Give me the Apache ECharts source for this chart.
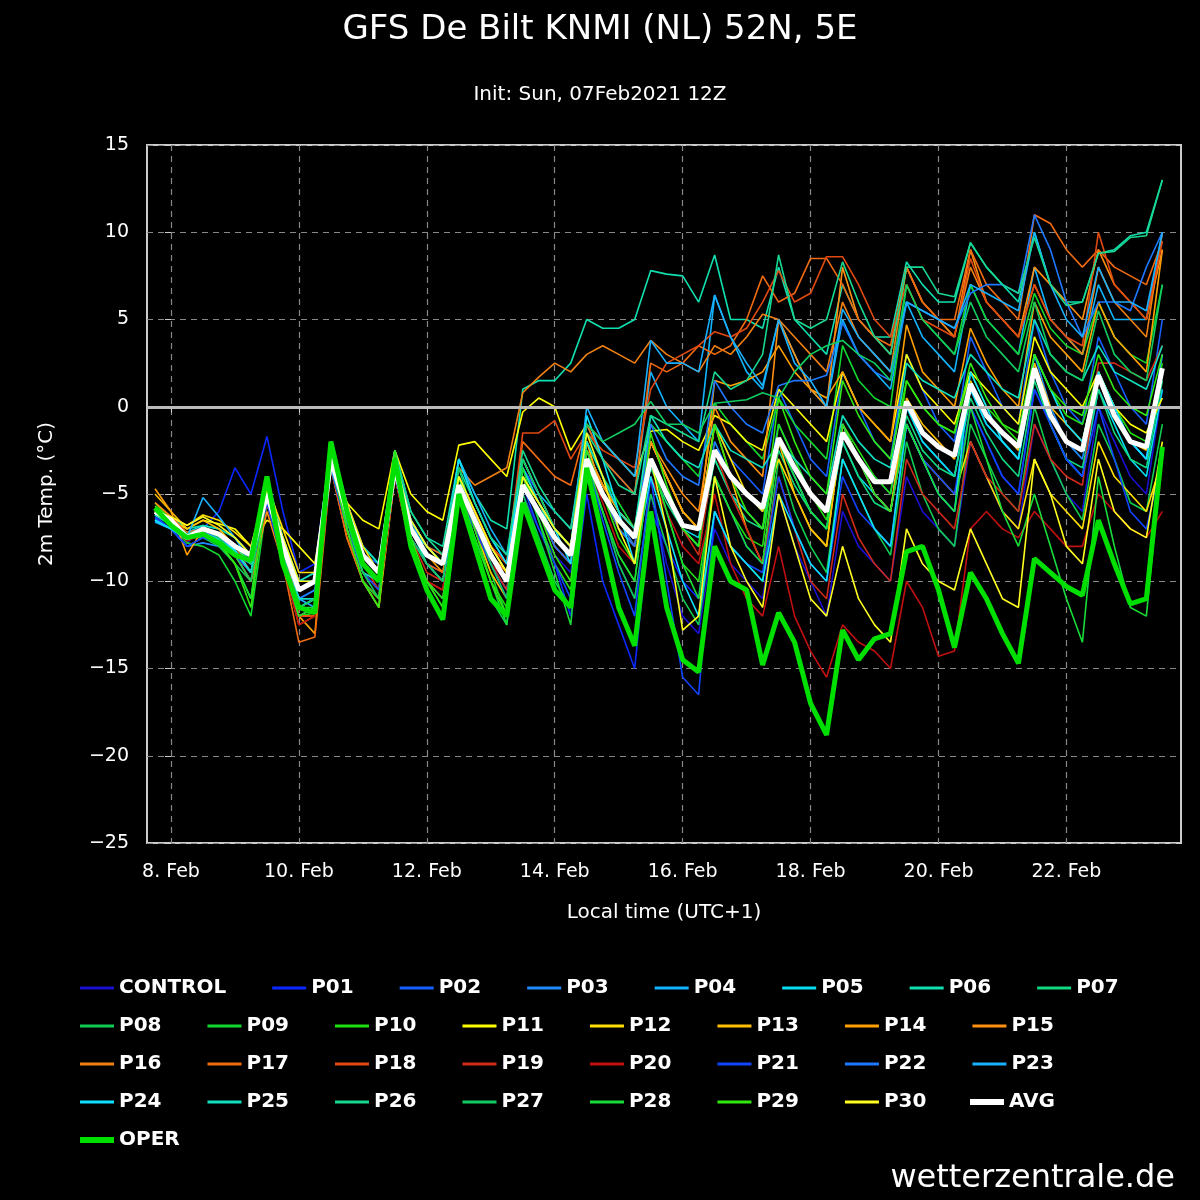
<!DOCTYPE html>
<html><head><meta charset="utf-8">
<script src="https://cdn.jsdelivr.net/npm/echarts@6/dist/echarts.min.js"></script>
<style>html,body{margin:0;background:#000}#c{width:1200px;height:1200px}</style>
</head><body><div id="c"></div>
<script>
const startHour = -6, stepHours = 6; // hours relative to 8 Feb 00:00 local
const tickHours = [0,48,96,144,192,240,288,336];
const tickLabels = ['8. Feb','10. Feb','12. Feb','14. Feb','16. Feb','18. Feb','20. Feb','22. Feb'];

const AVG=[-6,-6.5,-7.5,-7,-7.3,-8,-8.5,-5,-8,-10.5,-10,-3,-6,-8.5,-9.5,-3.5,-7,-8.5,-9,-4.5,-6.5,-8.5,-10,-4.5,-6,-7.5,-8.5,-3,-5,-6.5,-7.5,-3,-5,-6.8,-7,-2.5,-4,-5,-5.8,-1.8,-3.5,-5,-6,-1.5,-3,-4.3,-4.3,0.3,-1.5,-2.3,-2.8,1.3,-0.5,-1.5,-2.3,2.2,-0.5,-2,-2.5,1.8,-0.5,-2,-2.3,2.2];
const OPER=[-5.8,-6.8,-7.5,-7.3,-7.8,-8.5,-8.8,-4,-9,-11.5,-11.8,-2,-6,-9,-10,-3,-8,-10.5,-12.2,-5,-8,-11,-12,-5.5,-8,-10.5,-11.5,-3.5,-7.5,-11.5,-13.7,-6,-11.5,-14.5,-15.2,-8,-10,-10.5,-14.8,-11.8,-13.5,-17,-18.8,-12.8,-14.5,-13.3,-13,-8.3,-8,-10.5,-13.8,-9.5,-11,-13,-14.7,-8.7,-9.5,-10.3,-10.8,-6.5,-9,-11.3,-11,-2.3];

const CONTROL=[-6,-6.5,-7.5,-7.5,-7.8,-8,-9,-5,-8.5,-11,-10.5,-3,-6.5,-9,-10,-3.5,-7.5,-9,-9.5,-5,-7,-9,-10.5,-5,-7,-8.5,-9.5,-3.5,-6,-9,-11,-5,-9,-12,-13,-7,-9,-10,-11,-5,-8,-10,-12,-6,-8,-9,-10,-4,-6,-7,-8,-2,-4,-6,-7,-1,-3,-5,-6,0,-2,-4,-5,1];
const P01=[-6.2,-6.8,-7.8,-7,-6,-3.5,-5,-1.7,-6,-9.5,-9,-2.5,-5.5,-8,-9,-3,-6.5,-8,-8.5,-4,-6,-8.5,-10,-4,-6.5,-9,-12,-5,-10,-12.5,-15,-6,-8,-10,-11,-4,-6,-8,-9,-2,-4,-6,-7,-1,-3,-5,-6,-1,-3,-5,-6,0,-2,-4,-5,1,-1,-3,-4,2,0,-2,-3,3];
const P02=[-6.4,-7,-8,-7.5,-7.8,-8.5,-9.5,-4.5,-8,-10,-9.5,-2.5,-6,-8.5,-9,-3,-7,-8.5,-9,-4.5,-6.5,-8,-9.5,-3.5,-5,-7,-8,-2,-4,-6,-7,-2,-4,-6,-7,-1,-3,-4,-5,1,-1,-3,-4,2,0,-2,-3,3,1,-1,-2,4,2,0,-1,5,2,0,-1,4,2,0,-1,5];
const P03=[-6.5,-7,-8,-7.8,-8,-8.5,-9,-5.5,-8.5,-11,-10.5,-3.5,-6.5,-9,-10,-4,-7.5,-9,-10,-5,-7,-9,-10.5,-4.5,-6,-7.5,-8.5,-3,-5,-6.5,-8,-3,-5,-7,-8,-2,-4,-5,-6,-1,-3,-5,-6,-1,-3,-4,-5,0,-2,-3,-4,1,-1,-2,-3,3,0,-2,-3,2,0,-2,-3,3];
const P04=[-6.6,-7,-7.5,-7,-7.5,-8,-9,-5,-8,-11,-11,-3,-6,-8.5,-9.5,-3,-6.5,-8,-9,-3,-5.5,-7.5,-9,-3,-5,-6,-7,-1,-3,-4,-5,2,0,-1,-2,6.4,4,2,1,5,3,1,0,5,3,2,1,6,4,3,2,7,5,4,3,8,5,4,3,7,5,5,5,10];
const P05=[-6.2,-6.6,-7.2,-6.8,-7,-7.5,-8.5,-4.5,-7.5,-10,-10,-3,-6,-8,-9,-3.5,-7,-8,-9,-4.5,-6.5,-8,-9.5,-4,-5.5,-7,-8,-2.5,-4.5,-6,-7,-3,-5,-7,-7.5,-3,-5,-6,-7,-2,-4,-6,-7,-2,-4,-5,-6,0,-2,-3,-4,1,-1,-2,-3,2,-1,-3,-4,1,-1,-3,-4,1];
const P06=[-5.8,-6.3,-7,-6.8,-7,-7.5,-8.5,-4,-7.5,-10,-9.5,-2,-5.5,-8,-9,-2.5,-6,-7.5,-8,-3,-5,-6.5,-7,1,1.5,1.5,2.5,5,4.5,4.5,5,7.8,7.6,7.5,6,8.7,5,5,4.5,8,5,4,3,7,5,4,4,8.3,7,6,6,9.4,8,7,6,10,7,6,6,8.8,9,9.8,10,13];
const P07=[-6,-6.5,-7.3,-7,-7.3,-8,-9,-4.8,-8,-10.5,-10,-3,-6,-8.5,-9.5,-3.2,-7,-8.5,-9,-4.5,-6.5,-8.5,-10,-4.5,-6,-7.5,-8.5,-3,-5,-6.5,-7.5,-3.5,-5.5,-7,-8,-3,-5,-6.5,-7,-2.5,-4.5,-6,-7,-2,-4,-5.5,-6,-0.5,-2.5,-3.5,-4,0.5,-1.5,-3,-4,1.5,-1,-3,-3.5,1,-1.5,-3,-3.5,1.5];
const P08=[-5.8,-6.5,-7.5,-7.5,-8,-9,-10,-5.5,-9,-11.5,-11,-2.5,-7,-10,-11.5,-3,-8,-10,-11.5,-5,-8,-11,-12.5,-5,-7.5,-10,-11.5,-4,-6,-9,-11,-5,-8,-11,-12.5,-6,-8,-9,-10,-3,-6,-8,-9.5,-3,-5,-7,-8.5,-2,-5,-7,-8,-1,-3,-5,-6,0,-3,-5,-6.5,-1,-3,-5.5,-6,-1];
const P09=[-6,-6.8,-7.8,-8,-8.5,-10,-12,-5.5,-9,-12,-11.5,-3,-7,-10,-11,-3.5,-7.5,-9,-10,-4,-7,-9.5,-12,-4,-6,-8,-9,-2,-4,-5.5,-7,-1,-2,-3,-4,0.2,-1,-2,-3,0.5,-1,-2,-3,3.5,1.5,0.5,0,7,5,4,3,7,5,4,3,6.5,4.5,3.5,3,6,4,3,2.5,7];
const P10=[-5.5,-6.5,-7.5,-7.3,-7.8,-9,-11,-4,-9,-12,-11.8,-2.5,-7,-10,-11,-3,-8,-10.5,-12,-5,-7.5,-10,-11.5,-4,-6.5,-9,-10.5,-3.5,-6,-8.5,-10,-3,-6,-9,-10,-4,-6,-7.5,-8,-1,-3,-5,-6.5,-1,-2.5,-4,-5,1.5,0,-1,-1.5,2,0,-1,-2,3,1,-0.5,-1,2,0,-1.5,-2,2.5];
const P11=[-6.2,-6.5,-7,-6.5,-6.7,-7,-8,-6.5,-7,-8,-9,-3,-5.5,-6.5,-7,-2.5,-5,-6,-6.5,-2.2,-2,-3,-4,-0.3,0.5,0,-2.5,-1,-2,-3,-4,-1.4,-1.3,-2,-2.5,-0.5,-1,-2,-2.5,1,0,-1,-2,2,0,-1,-2,3,1,0,-1,2,1,0,-1,4,2,1,0,2,0,-1,-1.5,0.5];
const P12=[-6,-6.3,-6.8,-6.2,-6.5,-7.2,-8,-4.5,-7,-9.5,-9.5,-2.5,-5.5,-8,-9.5,-3,-6.5,-8,-9,-4,-6,-8,-9.5,-4,-5.5,-7,-8,-2.5,-4.5,-6,-7,-2,-4,-6,-7,-1,-3,-5,-6,-3,-5,-7,-8,-1,-3,-5,-6,-1,-3,-4,-5,-2,-4,-6,-7,-3,-5,-6,-7,-2,-4,-5,-6,-3];
const P13=[-5,-6,-7,-6.5,-7,-8,-9,-5,-9,-12,-12,-2.5,-7,-10,-11.5,-4,-8,-10,-11,-4.5,-7,-9.5,-11,-4,-6,-8,-9,-2,-5,-7,-8,-2,-4,-6,-7,-1,-4,-7,-9,-2,-5,-7,-8,-1,-3,-5,-6,0.5,-1,-2,-3,1.5,-0.5,-1.5,-2.5,2.5,0,-1,-2,2,-0.5,-2,-2.5,2];
const P14=[-4.7,-6,-8.5,-7,-7.3,-8,-9,-5.5,-8,-12,-13,-3,-7,-9.5,-10.5,-3.5,-7,-8.5,-9.5,-4,-6,-8,-9,-3,-5,-7,-8,-2.5,-4.5,-6,-7,-2,-4,-6,-7,1.5,1.2,1.5,2,3.5,2,1,0.5,2,0,-1,-2,4.7,2,1,0,4.5,2.5,1,0,6,4,3,2,6,4,3,2,9];
const P15=[-5.5,-6.3,-7.5,-7,-7.5,-8.5,-10,-6,-9,-12.5,-12,-3.5,-7.5,-10,-11,-4,-7.5,-9,-10,-4.5,-6.5,-8.5,-9.5,-4,-5.5,-7,-8,-2.5,-4.5,-6,-7,-2,-3.5,-5,-6,0,-2,-3,-4,5,3,1,0,8,5,4,3,8,6,5,4,9,6,5,4,8,7,6,5,9,7,6,5,9];
const P16=[-6,-6.5,-7.5,-7.3,-7.7,-8.5,-9.5,-5,-8,-11.5,-11,-3,-6,-9,-10,-3.5,-6.5,-8,-8.5,-3.5,-4.5,-4,-3.5,0.8,1.7,2.5,2,3,3.5,3,2.5,3.8,3,2.5,2,3.5,3,4,5.3,5,4,3,2,6,4,3,2,8,6,5,4,8,6,5,4,7,5,4,3,8,6,5,4,10];
const P17=[-5.8,-6.3,-7.2,-7,-7.5,-8.5,-10,-5.5,-9,-13.5,-13.2,-3.5,-7.5,-10,-11,-4,-7.5,-9,-9.5,-4,-6,-8,-9,-2,-3,-4,-4.5,-1,-3,-4,-5,2.5,2,2.5,3.5,3,3.5,5,7.5,6,6.5,8.5,8.5,7,5,4,3.5,8,6,5,5,9,7,6,5,11,10.5,9,8,9,8,7.5,7,9.5];
const P18=[-6,-6.5,-7.3,-7,-7.3,-8,-9.5,-5,-8.5,-12,-12,-3,-7,-10,-11,-4,-8,-10,-10.5,-4,-6,-8,-9,-1.5,-1.5,-0.8,-3,-1.5,-2.5,-3,-3.5,1,2.5,3,3.5,4.3,4,4.5,6,7.8,6,6.5,8.6,8.6,7,5,4,7,5,4.5,4,8.5,6,5,4,7,5,4,3.5,10,7,6,5,9.5];
const P19=[-6,-6.5,-7.5,-7.2,-7.5,-8.5,-9.5,-5.5,-8.5,-11.5,-11,-3.5,-6.5,-9,-10.5,-4,-7.5,-9.5,-10,-4.5,-7,-9,-10.5,-4,-6,-8,-9,-3,-5,-7,-8,-3,-5,-7,-8.5,-2.5,-5,-7,-9,-4,-7,-10,-11,-5,-7.5,-9,-10,-3,-5,-6,-7,-2,-4,-5,-6,-1,-3,-4,-4.5,2.5,2.5,2,1.5,3.5];
const P20=[-6,-6.7,-7.7,-7.3,-7.5,-8.5,-9.5,-5.5,-9,-12.5,-12,-3.5,-7,-10,-11,-4,-8,-10,-10.5,-4,-6.5,-9,-10,-4,-6,-8,-9,-3,-5.5,-8,-9,-4,-6,-8,-9,-5,-9,-11,-12,-8,-12,-14,-15.5,-12.5,-13.5,-14,-15,-10,-11.5,-14.3,-14,-7,-6,-7,-7.5,-6,-7,-8,-8,-5,-6,-7,-7.5,-6];
const P21=[-6.3,-7,-8,-7.5,-7.8,-8.5,-9.5,-5.5,-9,-12,-11.5,-3.5,-7,-9.5,-10.5,-4,-7.5,-9,-10,-5,-7,-9,-11,-4.5,-7,-9,-11,-3,-6.5,-9.5,-12,-4,-10,-15.5,-16.5,-6,-8,-9,-9.5,-4,-7,-9,-10,-4,-6,-7,-8,-1,-3,-4,-5,0,-2,-4,-5,1,-1,-3,-4,0,-3,-6,-7,-3];
const P22=[-6,-6.6,-7.6,-7.2,-7.5,-8.2,-9.5,-5,-8.5,-11.5,-11,-3,-6.5,-9,-10,-3.5,-7,-8.5,-9,-4,-6.5,-8.5,-10,-4,-6,-8,-9,-2.5,-5,-7,-8,-1,-3,-4,-4.5,1.5,0,-1,-1.5,1.2,1.5,1.5,1.8,4.8,3,2,1.5,6,5.5,5,4.5,6.5,7,7,6.5,11,9,6,4,6,6,5.5,8,10];
const P23=[-6.5,-7,-7.5,-5.2,-6.3,-7.5,-9,-4.5,-8,-11,-11.5,-3.5,-6.5,-9,-10,-2.5,-6.5,-8.5,-9,-3,-5,-7,-8.5,-3.5,-5.5,-7,-8,0,-2,-3,-4,3.8,2.5,2.5,2,6.4,4,2.5,1.2,5,2.5,1.5,0,5.6,4,3,2,6,5.5,5,4.5,7,6.5,6,5.5,10,7,5,4,8,6,6,5.5,10];
const P24=[-6.5,-7,-7.6,-7.2,-7.6,-8.2,-9.5,-5,-8.5,-11.5,-11,-3,-6,-8.5,-9.5,-3,-6.5,-8,-9,-3,-5.5,-7.5,-9,-3,-5,-7,-9,-0.5,-3,-6,-9,-4,-7,-10,-12,-6,-8,-9,-10,-5,-7,-9,-10,-3,-5,-7,-8,-1,-3,-5,-6,2,0,-2,-3,3,1,-1,-2,2,0,-2,-3,2];
const P25=[-6.2,-6.8,-7.6,-7.3,-7.6,-8.3,-9.5,-4.5,-8,-11,-11,-2.5,-6.5,-9.5,-10,-3,-7,-9,-10,-4.5,-6.5,-8.5,-10,-3.5,-5.5,-7.5,-8.5,-2,-4,-6,-7,-0.5,-2,-3,-3.5,-1,-2.5,-3,-3.5,-2,-3,-4,-5,-0.5,-2,-3,-3.5,2.5,1.5,1,0.5,3,2,1,0.5,5,3,2,1.5,3.5,2,1.5,1,3.5];
const P26=[-6,-6.5,-7.3,-7,-7.3,-8,-9,-4.5,-8,-10.5,-10,-2,-6,-8.5,-9.5,-2.5,-6,-7.5,-8.5,-3.5,-5.5,-7.5,-8.5,-2.5,-4.5,-6,-7,-1.5,-3,-4.5,-5,-0.5,-1,-1.5,-2,2,1,1.5,3,8.7,5,4.5,5,8.3,6,4,3,8,8,6.5,6.3,9.4,8,7,6.5,9.7,7,5.8,6,8.8,8.9,9.7,9.8,13];
const P27=[-6,-6.5,-7.5,-7,-7.5,-8.5,-10,-4.5,-8.5,-11.5,-11,-2,-6.5,-9.5,-11,-3,-7.5,-9,-10,-3.5,-6.5,-9,-11,-3,-5,-7,-8,-1,-2,-1.5,-1,0.3,-1,-1,-1.5,0.2,0.3,0.4,0.8,0.5,2,3,3.5,3.8,3,2.5,1.5,7,5,4,3,6,4,3,2,6,3,2,1.5,5.5,3,2,1.5,7];
const P28=[-5.8,-6.5,-7.5,-7.2,-7.8,-9,-11,-5,-9,-11.5,-11.5,-3,-7,-10,-11,-3.5,-8,-10,-11,-4.5,-7.5,-10,-12.5,-3.5,-6.5,-9.5,-12.5,-3,-6,-8.5,-10,-3,-6,-9,-11,-4,-6,-8,-9,-2,-4,-6,-7,-1,-3,-5,-6,-1,-3,-5,-6,0,-3,-6,-8,-5,-8,-11,-13.5,-4,-8,-11.5,-12,-2.5];
const P29=[-5.7,-6.4,-7.4,-7.2,-7.8,-9,-11.5,-4.5,-9,-12,-11.5,-3,-7,-10,-11.5,-2.5,-7.5,-10,-11.5,-4,-7,-10,-12,-4,-6,-8.5,-10,-2.5,-5,-7.5,-9,-1.5,-4.5,-7,-8,-1,-4,-6,-7,0.5,-2,-4,-5,1.5,-0.5,-2,-3,1.5,0,-1,-1.5,2.5,0.5,-1,-1.5,3,1,0,-0.5,3,1,0,-0.5,3];
const P30=[-6,-6.3,-6.8,-6.3,-6.8,-7.5,-8.5,-4.8,-7.5,-10,-10,-2.5,-6,-8.5,-9.5,-3,-6.5,-8,-9,-4,-6,-8,-9.5,-4,-5.5,-7,-8,-1.5,-4,-7,-9,-3,-7,-12.8,-12,-4,-8,-10,-11.5,-5,-8,-11,-12,-8,-11,-12.5,-13.5,-7,-9,-10,-10.5,-7,-9,-11,-11.5,-3,-5,-8,-9,-3,-6,-7,-7.5,-2];

const members = [
 ['CONTROL',CONTROL,'#1a10d0'],['P01',P01,'#0a28ff'],['P02',P02,'#1460ff'],['P03',P03,'#1e8cff'],
 ['P04',P04,'#10b4ff'],['P05',P05,'#00dcf0'],['P06',P06,'#10e0b0'],['P07',P07,'#10d880'],
 ['P08',P08,'#10cc50'],['P09',P09,'#10d830'],['P10',P10,'#20e010'],['P11',P11,'#ffff00'],
 ['P12',P12,'#ffe000'],['P13',P13,'#ffc000'],['P14',P14,'#ffa000'],['P15',P15,'#ff9010'],
 ['P16',P16,'#f08010'],['P17',P17,'#f06a10'],['P18',P18,'#e04a10'],['P19',P19,'#d02a18'],
 ['P20',P20,'#c01010'],['P21',P21,'#1044ff'],['P22',P22,'#1e78ff'],['P23',P23,'#18b0ff'],
 ['P24',P24,'#10e0ff'],['P25',P25,'#10e0c0'],['P26',P26,'#18d890'],['P27',P27,'#10cc60'],
 ['P28',P28,'#18dc38'],['P29',P29,'#30e810'],['P30',P30,'#ffff20']
];
const toXY = arr => arr.map((v,i)=>[startHour+i*stepHours, v]);
const series = members.map(m=>({name:m[0],type:'line',data:toXY(m[1]),showSymbol:false,symbol:'none',
  lineStyle:{width:1.6,color:m[2]},itemStyle:{color:m[2]},z:2,animation:false}));
series.push({name:'AVG',type:'line',data:toXY(AVG),symbol:'none',lineStyle:{width:5,color:'#fff'},itemStyle:{color:'#fff'},z:4,animation:false,
  markLine:{silent:true,symbol:'none',label:{show:false},lineStyle:{color:'#bbb',width:3,type:'solid'},data:[{yAxis:0}]}});
series.push({name:'OPER',type:'line',data:toXY(OPER),symbol:'none',lineStyle:{width:5,color:'#00e000'},itemStyle:{color:'#00e000'},z:5,animation:false});

const names = members.map(m=>m[0]);
const txt = {color:'#fff',fontSize:20,fontWeight:'bold',fontFamily:'DejaVu Sans'};
const rows = [names.slice(0,8),names.slice(8,16),names.slice(16,24),names.slice(24,31)];
const legends = rows.map((r,i)=>({data:r,left:75,top:973+i*38,itemGap:46,itemWidth:34,itemHeight:3,icon:'rect',
  textStyle:txt,inactiveColor:'#555'}));
legends.push({data:['AVG'],left:965,top:973+3*38,itemWidth:34,itemHeight:6,icon:'rect',textStyle:txt});
legends.push({data:['OPER'],left:75,top:973+4*38,itemWidth:34,itemHeight:6,icon:'rect',textStyle:txt});

const chart = echarts.init(document.getElementById('c'));
chart.setOption({
  backgroundColor:'#000',animation:false,
  textStyle:{fontFamily:'DejaVu Sans'},
  title:[{text:'GFS De Bilt KNMI (NL) 52N, 5E',left:'center',top:8,textStyle:{color:'#fff',fontSize:34,fontWeight:'normal',fontFamily:'DejaVu Sans'}},
         {text:'Init: Sun, 07Feb2021 12Z',left:'center',top:80,textStyle:{color:'#fff',fontSize:20,fontWeight:'normal',fontFamily:'DejaVu Sans'}},
         {text:'wetterzentrale.de',right:20,top:1158,textStyle:{color:'#fff',fontSize:32,fontWeight:'normal',fontFamily:'DejaVu Sans'}}],
  legend:legends,
  grid:{left:147,right:19,top:145,bottom:357,show:true,borderColor:'#ccc',borderWidth:2,backgroundColor:'#000'},
  xAxis:{type:'value',min:-9,max:379,name:'Local time (UTC+1)',nameLocation:'middle',nameGap:60,
    nameTextStyle:{color:'#fff',fontSize:20},
    axisLine:{show:false},
    axisTick:{show:true,customValues:tickHours,length:6,lineStyle:{color:'#ccc'}},
    axisLabel:{customValues:tickHours,color:'#fff',fontSize:19,margin:20,formatter:v=>tickLabels[tickHours.indexOf(v)]||''},
    splitLine:{show:true,lineStyle:{color:'#888',type:[6,5],width:1.2}}},
  yAxis:{type:'value',min:-25,max:15,interval:5,name:'2m Temp. (°C)',nameLocation:'middle',nameGap:90,
    nameTextStyle:{color:'#fff',fontSize:20},
    axisLine:{show:false},axisTick:{show:true,length:6,lineStyle:{color:'#ccc'}},
    axisLabel:{color:'#fff',fontSize:19,margin:18,formatter:v=>String(v).replace('-','\u2212')},
    splitLine:{show:true,lineStyle:{color:'#888',type:[6,5],width:1.2}}},
  series:series
});
</script></body></html>
